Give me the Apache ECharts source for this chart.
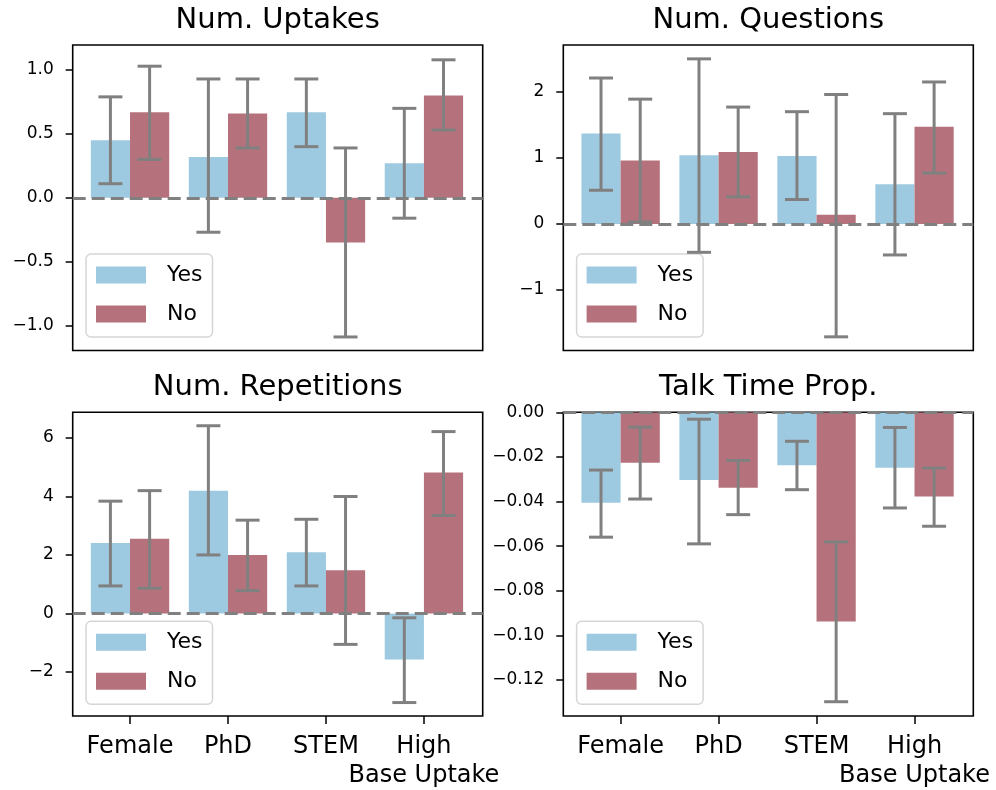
<!DOCTYPE html>
<html>
<head>
<meta charset="utf-8">
<script src="https://cdn.jsdelivr.net/npm/echarts@6/dist/echarts.min.js"></script>
<style>
  html, body { margin: 0; padding: 0; background: #fff; }
  #chart { width: 996px; height: 790px; }
</style>
</head>
<body>
<div id="chart"></div>
<script>
  var categories = ['Female', 'PhD', 'STEM', 'High\nBase Uptake']

  // Num. Uptakes
  var uptakeYes = [0.45, 0.32, 0.67, 0.27]
  var uptakeYesLo = [0.11, -0.27, 0.40, -0.16]
  var uptakeYesHi = [0.79, 0.93, 0.93, 0.70]
  var uptakeNo = [0.67, 0.66, -0.35, 0.80]
  var uptakeNoLo = [0.30, 0.39, -1.09, 0.53]
  var uptakeNoHi = [1.03, 0.93, 0.39, 1.08]
  var uptakeTicks = [-1.0, -0.5, 0.0, 0.5, 1.0]

  // Num. Questions
  var questionYes = [1.37, 1.04, 1.03, 0.60]
  var questionYesLo = [0.51, -0.43, 0.37, -0.47]
  var questionYesHi = [2.21, 2.50, 1.70, 1.67]
  var questionNo = [0.96, 1.09, 0.14, 1.47]
  var questionNoLo = [0.03, 0.41, -1.71, 0.77]
  var questionNoHi = [1.89, 1.77, 1.96, 2.15]
  var questionTicks = [-1, 0, 1, 2]

  // Num. Repetitions
  var repetitionYes = [2.41, 4.20, 2.09, -1.58]
  var repetitionYesLo = [0.94, 2.00, 0.94, -3.05]
  var repetitionYesHi = [3.84, 6.42, 3.22, -0.15]
  var repetitionNo = [2.55, 2.00, 1.48, 4.82]
  var repetitionNoLo = [0.86, 0.78, -1.06, 3.35]
  var repetitionNoHi = [4.20, 3.19, 4.00, 6.22]
  var repetitionTicks = [-2, 0, 2, 4, 6]

  // Talk Time Prop.
  var talkYes = [-0.0406, -0.0304, -0.0237, -0.0249]
  var talkYesLo = [-0.0560, -0.0590, -0.0347, -0.0429]
  var talkYesHi = [-0.0259, -0.0031, -0.0130, -0.0068]
  var talkNo = [-0.0226, -0.0338, -0.0938, -0.0378]
  var talkNoLo = [-0.0389, -0.0459, -0.1298, -0.0511]
  var talkNoHi = [-0.0067, -0.0216, -0.0581, -0.0250]
  var talkTicks = [-0.12, -0.10, -0.08, -0.06, -0.04, -0.02, 0.00]

  var FONT = 'DejaVu Sans'
  var BLUE = '#9ecae1'
  var RED = '#b5727c'
  var GRAY = '#808080'
  var XMIN = -0.585
  var XMAX = 3.6

  var panels = [
    {title: 'Num. Uptakes', yes: uptakeYes, yesLo: uptakeYesLo, yesHi: uptakeYesHi, no: uptakeNo, noLo: uptakeNoLo, noHi: uptakeNoHi,
      ticks: uptakeTicks, digits: 1, min: -1.196, max: 1.196, left: 72.7, top: 45, bottom: false},
    {title: 'Num. Questions', yes: questionYes, yesLo: questionYesLo, yesHi: questionYesHi, no: questionNo, noLo: questionNoLo, noHi: questionNoHi,
      ticks: questionTicks, digits: 0, min: -1.917, max: 2.71, left: 563.3, top: 45, bottom: false},
    {title: 'Num. Repetitions', yes: repetitionYes, yesLo: repetitionYesLo, yesHi: repetitionYesHi, no: repetitionNo, noLo: repetitionNoLo, noHi: repetitionNoHi,
      ticks: repetitionTicks, digits: 0, min: -3.51, max: 6.88, left: 72.7, top: 412.3, bottom: true},
    {title: 'Talk Time Prop.', yes: talkYes, yesLo: talkYesLo, yesHi: talkYesHi, no: talkNo, noLo: talkNoLo, noHi: talkNoHi,
      ticks: talkTicks, digits: 2, min: -0.1362, max: 0, left: 563.3, top: 412.3, bottom: true}
  ]

  var PW = 410
  var PH = 305.5

  // bar drawn from 0 to value, spanning [i + x0, i + x1]
  function barRender (x0, x1) {
    return function (params, api) {
      var i = api.value(0)
      var a = api.coord([i + x0, api.value(1)])
      var b = api.coord([i + x1, 0])
      return {
        type: 'rect',
        shape: {x: a[0], y: Math.min(a[1], b[1]), width: b[0] - a[0], height: Math.abs(b[1] - a[1])},
        style: api.style()
      }
    }
  }

  function errRender (dx) {
    return function (params, api) {
      var x = api.value(0) + dx
      var lo = api.coord([x, api.value(1)])
      var hi = api.coord([x, api.value(2)])
      var cap = 12
      var st = {stroke: GRAY, lineWidth: 3}
      return {
        type: 'group',
        children: [
          {type: 'line', shape: {x1: lo[0], y1: lo[1], x2: hi[0], y2: hi[1]}, style: st},
          {type: 'line', shape: {x1: lo[0] - cap, y1: lo[1], x2: lo[0] + cap, y2: lo[1]}, style: st},
          {type: 'line', shape: {x1: hi[0] - cap, y1: hi[1], x2: hi[0] + cap, y2: hi[1]}, style: st}
        ]
      }
    }
  }

  function fmt (v, digits) {
    var s = Math.abs(v).toFixed(digits)
    return (v < -1e-9 ? '\u2212' : '') + s
  }

  var option = {
    animation: false,
    backgroundColor: '#fff',
    textStyle: {fontFamily: FONT},
    grid: [],
    xAxis: [],
    yAxis: [],
    legend: [],
    series: [],
    graphic: []
  }

  panels.forEach(function (p, k) {
    option.grid.push({
      left: p.left, top: p.top, width: PW, height: PH,
      show: true, borderColor: '#000', borderWidth: 1.6, backgroundColor: 'transparent'
    })
    option.xAxis.push({
      type: 'value', gridIndex: k, min: XMIN, max: XMAX, position: 'bottom',
      splitLine: {show: false},
      axisLine: {show: false, onZero: false},
      axisTick: {show: p.bottom, customValues: [0, 1, 2, 3], length: 8, lineStyle: {color: '#000', width: 1.5}},
      axisLabel: {
        // blank label at the right edge so the min/max overlap check leaves the real ones alone
        show: p.bottom, customValues: [0, 1, 2, 3, XMAX], margin: 16, hideOverlap: false,
        fontSize: 24, lineHeight: 29, color: '#000', fontFamily: FONT,
        formatter: function (v) { return v > 3.5 ? '' : categories[Math.round(v)] }
      }
    })
    option.yAxis.push({
      type: 'value', gridIndex: k, min: p.min, max: p.max, position: 'left',
      splitLine: {show: false},
      axisLine: {show: false, onZero: false},
      axisTick: {show: true, customValues: p.ticks, length: 7, lineStyle: {color: '#000', width: 1.5}},
      axisLabel: {
        customValues: p.ticks, margin: 19, fontSize: 17, color: '#000', fontFamily: FONT,
        showMinLabel: true, showMaxLabel: true,
        formatter: function (v) { return fmt(v, p.digits) }
      }
    })
    option.legend.push({
      orient: 'vertical',
      left: p.left + 13.3,
      top: p.top + PH - 96.5,
      data: [{name: 'Yes', icon: 'rect'}, {name: 'No', icon: 'rect'}],
      itemWidth: 50, itemHeight: 17, itemGap: 17,
      padding: [10, 10, 12, 10],
      backgroundColor: 'rgba(255,255,255,0.8)',
      borderColor: '#d6d6d6', borderWidth: 1.5, borderRadius: 5,
      selectedMode: false,
      textStyle: {fontSize: 22, lineHeight: 22, color: '#000', fontFamily: FONT, padding: [0, 0, 0, 16]}
    })
    option.graphic.push({
      type: 'text',
      x: p.left + PW / 2,
      y: p.top - 25,
      style: {text: p.title, fontSize: 29, fontFamily: FONT, fill: '#000', align: 'center', verticalAlign: 'middle'}
    })

    var yesData = p.yes.map(function (v, i) { return [i, v] })
    var noData = p.no.map(function (v, i) { return [i, v] })
    var yesErr = p.yesLo.map(function (v, i) { return [i, v, p.yesHi[i]] })
    var noErr = p.noLo.map(function (v, i) { return [i, v, p.noHi[i]] })

    option.series.push(
      {name: 'Yes', type: 'custom', xAxisIndex: k, yAxisIndex: k, z: 2, clip: true,
        itemStyle: {color: BLUE}, renderItem: barRender(-0.4, 0), data: yesData, encode: {x: 0, y: 1}},
      {name: 'No', type: 'custom', xAxisIndex: k, yAxisIndex: k, z: 2, clip: true,
        itemStyle: {color: RED}, renderItem: barRender(0, 0.4), data: noData, encode: {x: 0, y: 1}},
      {name: 'zero', type: 'line', xAxisIndex: k, yAxisIndex: k, z: 4, data: [],
        markLine: {
          silent: true, symbol: 'none', label: {show: false},
          lineStyle: {color: GRAY, width: 3, type: [13, 6]},
          data: [{yAxis: 0}]
        }},
      {name: 'errYes', type: 'custom', xAxisIndex: k, yAxisIndex: k, z: 5,
        renderItem: errRender(-0.2), data: yesErr, encode: {x: 0, y: [1, 2]}},
      {name: 'errNo', type: 'custom', xAxisIndex: k, yAxisIndex: k, z: 5,
        renderItem: errRender(0.2), data: noErr, encode: {x: 0, y: [1, 2]}}
    )
  })

  var chart = echarts.init(document.getElementById('chart'))
  chart.setOption(option)
</script>
</body>
</html>
